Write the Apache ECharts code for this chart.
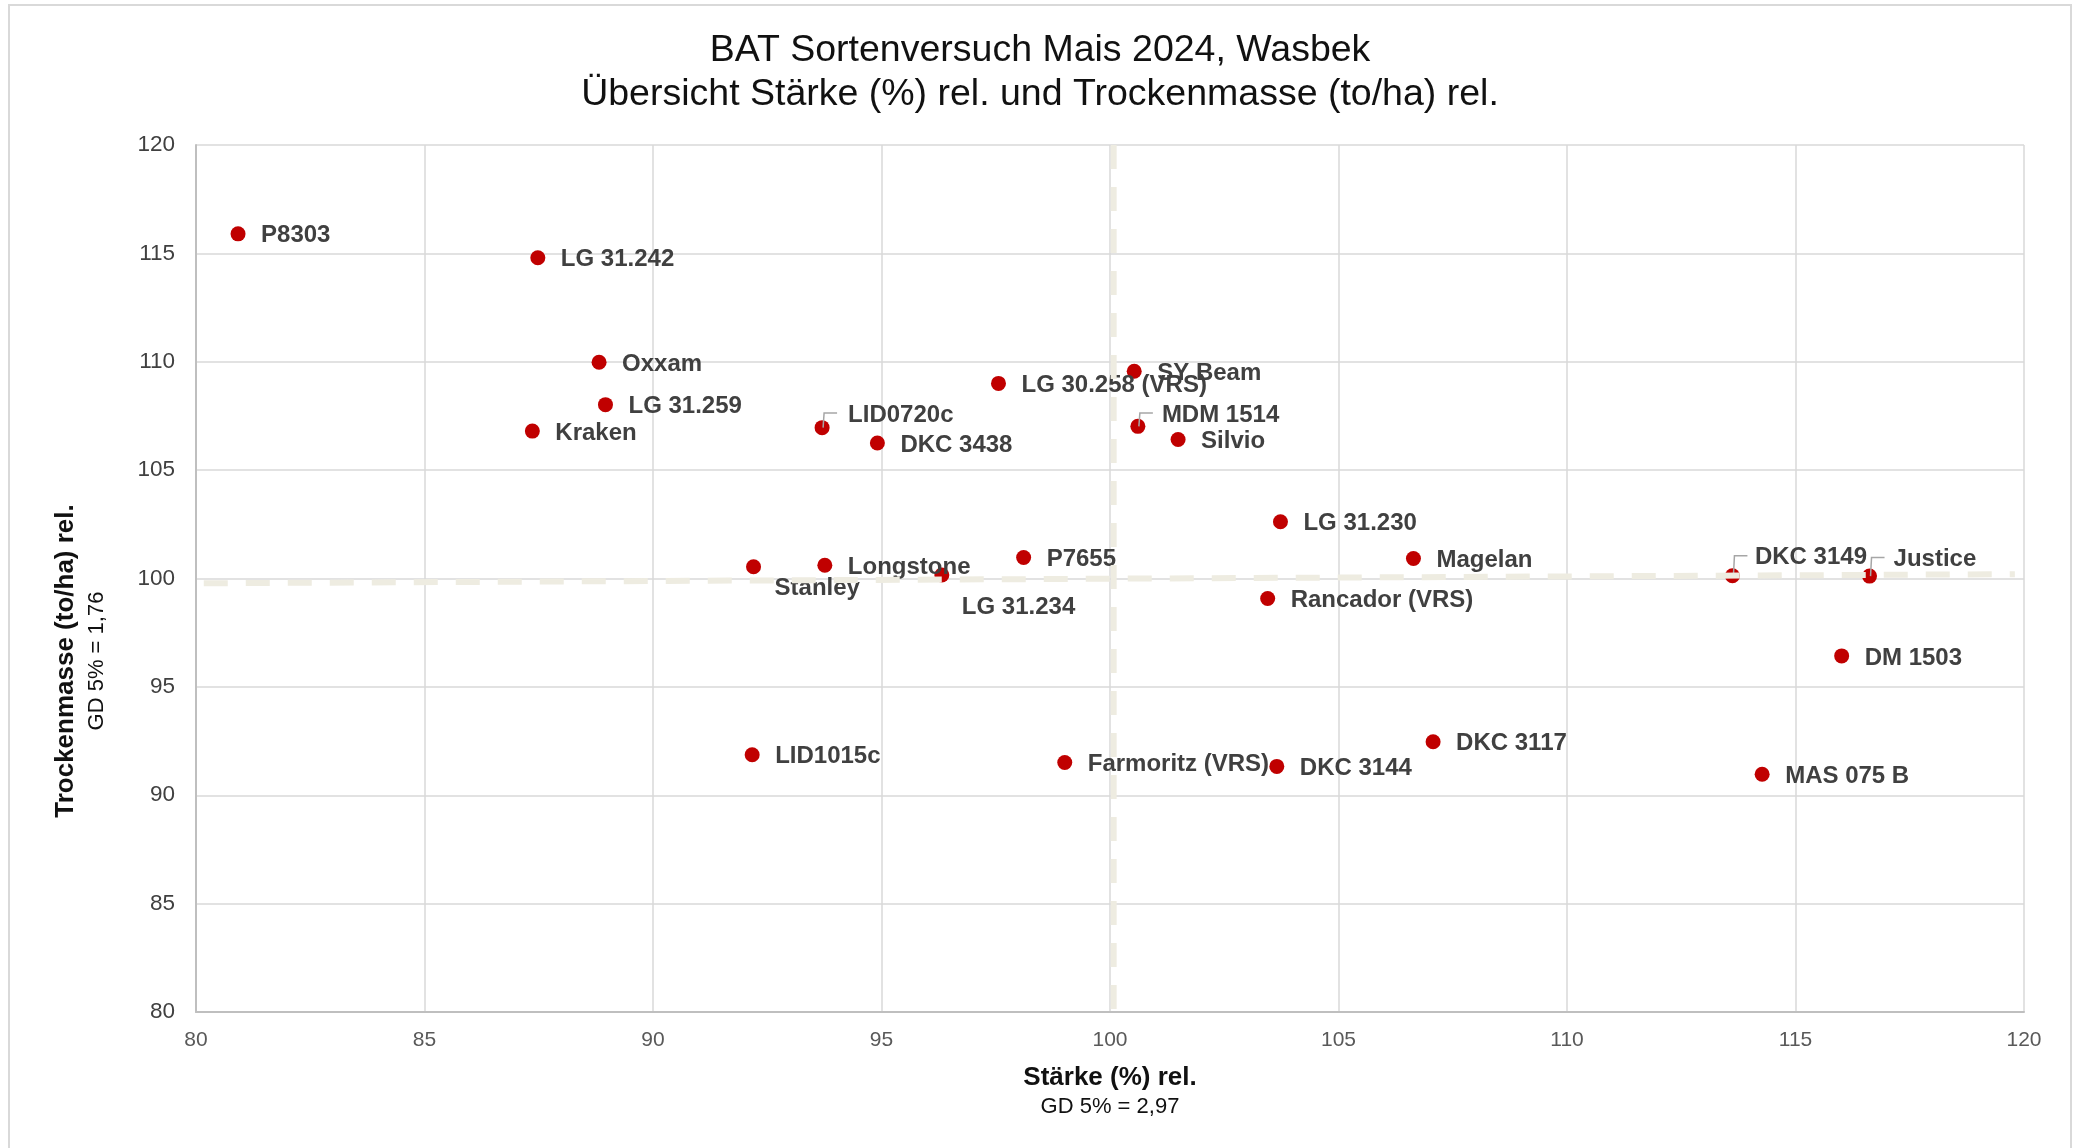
<!DOCTYPE html>
<html>
<head>
<meta charset="utf-8">
<title>BAT Sortenversuch Mais 2024, Wasbek</title>
<script src="https://cdn.jsdelivr.net/npm/echarts@6/dist/echarts.min.js"></script>
<style>
  html, body { margin: 0; padding: 0; background: #fff; }
  #chart { width: 2080px; height: 1148px; }
</style>
</head>
<body>
<div id="chart"></div>
<script>
// Sorten mit Stärke (%) rel. und Trockenmasse (to/ha) rel.
const sorten = [
  'P8303', 'LG 31.242', 'Oxxam', 'LG 31.259', 'Kraken', 'LID0720c', 'DKC 3438',
  'LG 30.258 (VRS)', 'SY Beam', 'MDM 1514', 'Silvio', 'LG 31.230', 'Magelan',
  'DKC 3149', 'Justice', 'DM 1503', 'MAS 075 B', 'DKC 3117', 'DKC 3144',
  'Farmoritz (VRS)', 'LID1015c', 'Stanley', 'Longstone', 'LG 31.234', 'P7655',
  'Rancador (VRS)'
]
const staerke = [
  80.92, 87.48, 88.82, 88.96, 87.36, 93.70, 94.91,
  97.56, 100.53, 100.61, 101.49, 103.73, 106.64,
  113.62, 116.62, 116.01, 114.27, 107.07, 103.65,
  99.01, 92.17, 92.20, 93.76, 96.32, 98.11,
  103.45
]
const trockenmasse = [
  115.9, 114.8, 109.98, 108.02, 106.8, 106.96, 106.25,
  109.0, 109.56, 107.02, 106.41, 102.62, 100.92,
  100.13, 100.11, 96.43, 90.97, 92.47, 91.33,
  91.51, 91.87, 100.54, 100.61, 100.16, 100.97,
  99.08
]

// GD-Linien (gestrichelt)
const gdLineH = [[80.17, 99.78], [119.8, 100.2]]
const gdLineV = [[100.08, 120], [100.08, 80]]

// Achsenteilung
const xTicks = [80, 85, 90, 95, 100, 105, 110, 115, 120]
const yTicks = [80, 85, 90, 95, 100, 105, 110, 115, 120]

// Beschriftung: Abstand Textanfang / Textmitte vom Punkt (px)
const labelDefault = [23, 2]
const labelPos = {
  'LID0720c': [26, -12.6],
  'MDM 1514': [24, -11.3],
  'DKC 3149': [22.5, -17.9],
  'Justice': [24, -16.6],
  'Stanley': [21, 21.9],
  'LG 31.234': [20, 32.5]
}
// Sorten mit Führungslinie
const leaderNames = ['LID0720c', 'MDM 1514', 'DKC 3149', 'Justice']

const FONT = '"Liberation Sans", Arial, sans-serif'

const chart = echarts.init(document.getElementById('chart'), null, { renderer: 'canvas' })

const option = {
  animation: false,
  backgroundColor: '#ffffff',
  title: {
    text: 'BAT Sortenversuch Mais 2024, Wasbek\nÜbersicht Stärke (%) rel. und Trockenmasse (to/ha) rel.',
    left: 'center',
    top: 24,
    textStyle: {
      fontFamily: FONT,
      fontSize: 37.5,
      fontWeight: 'normal',
      color: '#111111',
      lineHeight: 44
    }
  },
  grid: {
    left: 196,
    right: 56,
    top: 145,
    bottom: 136,
    outerBoundsMode: 'none'
  },
  xAxis: {
    type: 'value',
    min: xTicks[0],
    max: xTicks[xTicks.length - 1],
    interval: 5,
    axisLine: { show: true, lineStyle: { color: '#BFBFBF', width: 2 } },
    axisTick: { show: false },
    axisLabel: { color: '#595959', fontSize: 21, fontFamily: FONT, margin: 18, showMinLabel: true, showMaxLabel: true },
    splitLine: { show: true, lineStyle: { color: '#D9D9D9', width: 1.5 } }
  },
  yAxis: {
    type: 'value',
    min: yTicks[0],
    max: yTicks[yTicks.length - 1],
    interval: 5,
    axisLine: { show: true, lineStyle: { color: '#BFBFBF', width: 2 } },
    axisTick: { show: false },
    axisLabel: { color: '#404040', fontSize: 22.5, fontFamily: FONT, margin: 21, showMinLabel: true, showMaxLabel: true },
    splitLine: { show: true, lineStyle: { color: '#D9D9D9', width: 1.5 } }
  },
  graphic: [
    {
      type: 'rect',
      silent: true,
      shape: { x: 9, y: 5, width: 2062, height: 1170 },
      style: { fill: 'none', stroke: '#D9D9D9', lineWidth: 2 }
    },
    {
      type: 'text',
      x: 1110,
      y: 1078,
      style: { text: 'Stärke (%) rel.', font: 'bold 26px ' + FONT, fill: '#111111', align: 'center', verticalAlign: 'middle' }
    },
    {
      type: 'text',
      x: 1110,
      y: 1107,
      style: { text: 'GD 5% = 2,97', font: '22px ' + FONT, fill: '#111111', align: 'center', verticalAlign: 'middle' }
    },
    {
      type: 'text',
      x: 66,
      y: 661,
      rotation: Math.PI / 2,
      style: { text: 'Trockenmasse (to/ha) rel.', font: 'bold 26px ' + FONT, fill: '#111111', align: 'center', verticalAlign: 'middle' }
    },
    {
      type: 'text',
      x: 97,
      y: 661,
      rotation: Math.PI / 2,
      style: { text: 'GD 5% = 1,76', font: '22px ' + FONT, fill: '#111111', align: 'center', verticalAlign: 'middle' }
    }
  ],
  series: [
    {
      name: 'Sorten',
      type: 'scatter',
      z: 2,
      symbol: 'circle',
      symbolSize: 15,
      itemStyle: { color: '#C00000', opacity: 1 },
      data: sorten.map((name, i) => ({ name, value: [staerke[i], trockenmasse[i]] })),
      label: {
        show: true,
        position: 'right',
        formatter: '{b}',
        fontFamily: FONT,
        fontWeight: 'bold',
        fontSize: 24,
        color: '#404040'
      },
      labelLayout: (params) => {
        const p = labelPos[sorten[params.dataIndex]] || labelDefault
        const r = params.rect
        return {
          x: r.x + r.width / 2 + p[0],
          y: r.y + r.height / 2 + p[1],
          align: 'left',
          verticalAlign: 'middle'
        }
      }
    },
    {
      // Führungslinien zu verschobenen Beschriftungen
      type: 'custom',
      z: 3,
      silent: true,
      data: leaderNames.map(n => {
        const i = sorten.indexOf(n)
        return [staerke[i], trockenmasse[i]]
      }),
      renderItem: (params, api) => {
        const pt = api.coord([api.value(0), api.value(1)])
        const p = labelPos[leaderNames[params.dataIndex]]
        const ly = pt[1] + p[1] - 2
        return {
          type: 'polyline',
          shape: { points: [[pt[0] + 1, pt[1]], [pt[0] + 2, ly], [pt[0] + 15, ly]] },
          style: { stroke: '#A6A6A6', lineWidth: 1.5, fill: null }
        }
      }
    },
    {
      type: 'line',
      z: 5,
      silent: true,
      symbol: 'none',
      data: gdLineH,
      lineStyle: { color: '#EEECE1', width: 6, type: [24, 18] }
    },
    {
      type: 'line',
      z: 5,
      silent: true,
      symbol: 'none',
      data: gdLineV,
      lineStyle: { color: '#EEECE1', width: 6, type: [24, 18] }
    }
  ]
}

chart.setOption(option)
</script>
</body>
</html>
